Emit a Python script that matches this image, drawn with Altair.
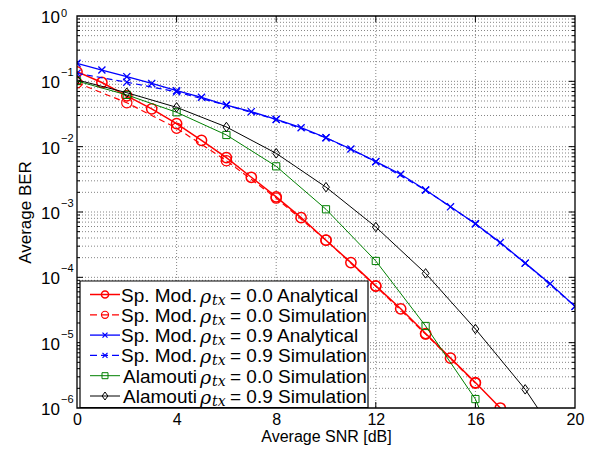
import altair as alt
import pandas as pd

# ---------------- data ----------------
snr_sm00_an = list(range(0, 18))
ber_sm00_an = [0.14, 0.096, 0.060, 0.038, 0.0225, 0.0125, 0.0068, 0.0034, 0.0017,
               0.00082, 0.00037, 0.000168, 7.4e-5, 3.3e-5, 1.38e-5, 5.8e-6, 2.45e-6, 1.0e-6]

snr_sm00_sim = list(range(0, 17, 2))
ber_sm00_sim = [0.095, 0.047, 0.0192, 0.0061, 0.00163, 0.00037, 7.3e-5, 1.35e-5, 2.4e-6]

snr_sm09_an = list(range(0, 21))
ber_sm09_an = [0.189, 0.149, 0.118, 0.093, 0.072, 0.057, 0.0434, 0.0343, 0.0262, 0.0195,
               0.0137, 0.0092, 0.0059, 0.00378, 0.00217, 0.0012, 0.00066, 0.00034,
               0.000165, 8.0e-5, 3.6e-5]

snr_sm09_sim = list(range(0, 21, 2))
ber_sm09_sim = [0.133, 0.097, 0.069, 0.043, 0.026, 0.0137, 0.0059, 0.00217, 0.00066,
                0.000165, 3.6e-5]

snr_al00_sim = list(range(0, 19, 2))
ber_al00_sim = [0.101, 0.062, 0.0336, 0.0151, 0.0050, 0.0011, 0.000178, 1.8e-5, 1.37e-6, 2e-8]

snr_al09_sim = list(range(0, 21, 2))
ber_al09_sim = [0.105, 0.067, 0.040, 0.020, 0.0079, 0.0024, 0.00059, 0.000115, 1.62e-5,
                1.93e-6, 1.4e-7]

legend_prefix = ["Sp. Mod.", "Sp. Mod.", "Sp. Mod.", "Sp. Mod.", "Alamouti", "Alamouti"]
legend_rest = ["= 0.0 Analytical", "= 0.0 Simulation", "= 0.9 Analytical",
               "= 0.9 Simulation", "= 0.0 Simulation", "= 0.9 Simulation"]

x_ticks = [0, 4, 8, 12, 16, 20]
x_grid = [4, 8, 12, 16]
decades = [1e0, 1e-1, 1e-2, 1e-3, 1e-4, 1e-5, 1e-6]
decade_exp = ["0", "\u22121", "\u22122", "\u22123", "\u22124", "\u22125", "\u22126"]

# ---------------- styling ----------------
FONT = "Liberation Sans"
W, H = 498, 392
GRID = "#858585"

XSHAPE = "M-1,-1L1,1M-1,1L1,-1"
DSHAPE = "M0,-1L0.72,0L0,1L-0.72,0Z"

series = [
    dict(snr=snr_sm00_an, ber=ber_sm00_an, color="#ff0000", width=1.5, dash=None, shape="circle", size=105, lsize=50),
    dict(snr=snr_sm00_sim, ber=ber_sm00_sim, color="#ff0000", width=1.2, dash=[6, 4], shape="circle", size=105, lsize=50),
    dict(snr=snr_sm09_an, ber=ber_sm09_an, color="#0000ff", width=1.3, dash=None, shape=XSHAPE, size=50, lsize=25),
    dict(snr=snr_sm09_sim, ber=ber_sm09_sim, color="#0000ff", width=1.2, dash=[6, 4], shape=XSHAPE, size=50, lsize=25),
    dict(snr=snr_al00_sim, ber=ber_al00_sim, color="#008000", width=1.0, dash=None, shape="square", size=52, lsize=36),
    dict(snr=snr_al09_sim, ber=ber_al09_sim, color="#000000", width=1.0, dash=None, shape=DSHAPE, size=90, lsize=64),
]

x_axis = alt.Axis(values=x_ticks, format="d", labelFontSize=16, labelFont=FONT,
                  labelColor="black", labelPadding=3.5, labelFlush=False, ticks=False,
                  domain=False, grid=False, title="Average SNR [dB]", titleFontSize=16,
                  titleFont=FONT, titleFontWeight="normal", titleColor="black",
                  titleX=W / 2, titleY=28.8, titleBaseline="middle", titleAlign="center")
y_axis = alt.Axis(labels=False, ticks=False, domain=False, grid=False,
                  title="Average BER", titleFontSize=17, titleFont=FONT,
                  titleFontWeight="normal", titleColor="black", titleX=-52, titleY=196,
                  titleBaseline="middle", titleAlign="center", titleAngle=270)

x_enc = alt.X("snr:Q", scale=alt.Scale(domain=[0, 20], nice=False, zero=False), axis=x_axis)
y_enc = alt.Y("ber:Q", scale=alt.Scale(type="log", domain=[1e-6, 1], nice=False), axis=y_axis)

layers = []

# grid
minor_vals = []
for d in decades[1:]:
    for m in range(1, 10):
        v = d * m
        if 1e-6 < v < 1:
            minor_vals.append(v)
layers.append(alt.Chart(pd.DataFrame({"snr": x_grid})).mark_rule(
    color=GRID, strokeDash=[1, 2], strokeWidth=1).encode(x=x_enc))
layers.append(alt.Chart(pd.DataFrame({"ber": minor_vals})).mark_rule(
    color=GRID, strokeDash=[1, 2], strokeWidth=1).encode(y=y_enc))

# inward ticks
maj_y = pd.DataFrame({"ber": decades[1:-1]})
min_y = pd.DataFrame({"ber": [v for v in minor_vals if v not in decades]})
for df, ln in [(maj_y, 6), (min_y, 3)]:
    layers.append(alt.Chart(df).mark_rule(color="black", strokeWidth=1).encode(
        y=y_enc, x=alt.value(0), x2=alt.value(ln)))
    layers.append(alt.Chart(df).mark_rule(color="black", strokeWidth=1).encode(
        y=y_enc, x=alt.value(W - ln), x2=alt.value(W)))
xt = pd.DataFrame({"snr": x_grid})
layers.append(alt.Chart(xt).mark_rule(color="black", strokeWidth=1).encode(
    x=x_enc, y=alt.value(H - 6), y2=alt.value(H)))
layers.append(alt.Chart(xt).mark_rule(color="black", strokeWidth=1).encode(
    x=x_enc, y=alt.value(0), y2=alt.value(6)))

# y tick labels (10 with superscript exponent)
dec_df = pd.DataFrame({"ber": decades, "exp": decade_exp})
layers.append(alt.Chart(dec_df).mark_text(align="right", baseline="middle", fontSize=17,
                                          font=FONT, color="black", dy=2).encode(
    y=y_enc, x=alt.value(-17), text=alt.value("10")))
layers.append(alt.Chart(dec_df.iloc[1:]).mark_text(align="left", baseline="middle", fontSize=11,
                                                   font=FONT, color="black", dy=-8).encode(
    y=y_enc, x=alt.value(-16), text="exp:N"))
layers.append(alt.Chart(dec_df.iloc[:1]).mark_text(align="left", baseline="middle", fontSize=11,
                                                   font=FONT, color="black", dy=-2).encode(
    y=y_enc, x=alt.value(-16), text="exp:N"))

# data series
for s in series:
    df = pd.DataFrame({"snr": s["snr"], "ber": s["ber"]})
    lk = dict(color=s["color"], strokeWidth=s["width"], clip=True)
    if s["dash"]:
        lk["strokeDash"] = s["dash"]
    layers.append(alt.Chart(df).mark_line(**lk).encode(x=x_enc, y=y_enc))
    layers.append(alt.Chart(df).mark_point(shape=s["shape"], size=s["size"], color=s["color"],
                                           filled=False, strokeWidth=s["width"], opacity=1,
                                           clip=True).encode(x=x_enc, y=y_enc))

# border
one = pd.DataFrame({"a": [0]})
layers.append(alt.Chart(one).mark_rect(fillOpacity=0, stroke="black", strokeWidth=1.3).encode(
    x=alt.value(0), x2=alt.value(W), y=alt.value(0), y2=alt.value(H)))

# legend
layers.append(alt.Chart(one).mark_rect(fill="white", stroke="black", strokeWidth=1.2).encode(
    x=alt.value(3), x2=alt.value(291), y=alt.value(265), y2=alt.value(391.5)))
row_y = [278.5, 298.8, 319.1, 339.4, 359.7, 380]
for i, s in enumerate(series):
    yy = row_y[i]
    rk = dict(color=s["color"], strokeWidth=s["width"])
    if s["dash"]:
        rk["strokeDash"] = [7, 4]
    layers.append(alt.Chart(one).mark_rule(**rk).encode(
        x=alt.value(13), x2=alt.value(43), y=alt.value(yy)))
    layers.append(alt.Chart(one).mark_point(shape=s["shape"], size=s["lsize"], color=s["color"],
                                            filled=False, strokeWidth=s["width"], opacity=1).encode(
        x=alt.value(28), y=alt.value(yy)))
    layers.append(alt.Chart(one).mark_text(align="right", baseline="middle", fontSize=19,
                                           font=FONT, color="black", dy=1).encode(
        x=alt.value(120), y=alt.value(yy), text=alt.value(legend_prefix[i])))
    layers.append(alt.Chart(one).mark_text(align="left", baseline="middle", fontSize=19,
                                           font="DejaVu Serif", fontStyle="italic",
                                           color="black").encode(
        x=alt.value(123), y=alt.value(yy + 2), text=alt.value("\u03c1")))
    layers.append(alt.Chart(one).mark_text(align="left", baseline="middle", fontSize=14,
                                           font="DejaVu Serif", fontStyle="italic",
                                           color="black").encode(
        x=alt.value(135), y=alt.value(yy + 6), text=alt.value("tx")))
    layers.append(alt.Chart(one).mark_text(align="left", baseline="middle", fontSize=19,
                                           font=FONT, color="black", dy=1).encode(
        x=alt.value(153), y=alt.value(yy), text=alt.value(legend_rest[i])))

chart = alt.layer(*layers).properties(
    width=W, height=H,
    autosize=alt.AutoSizeParams(type="none"),
    padding={"left": 69, "top": 8, "right": 14, "bottom": 37},
    background="white",
).configure_view(stroke=None)

chart.save("out.html", embed_options={"renderer": "svg", "actions": False})
